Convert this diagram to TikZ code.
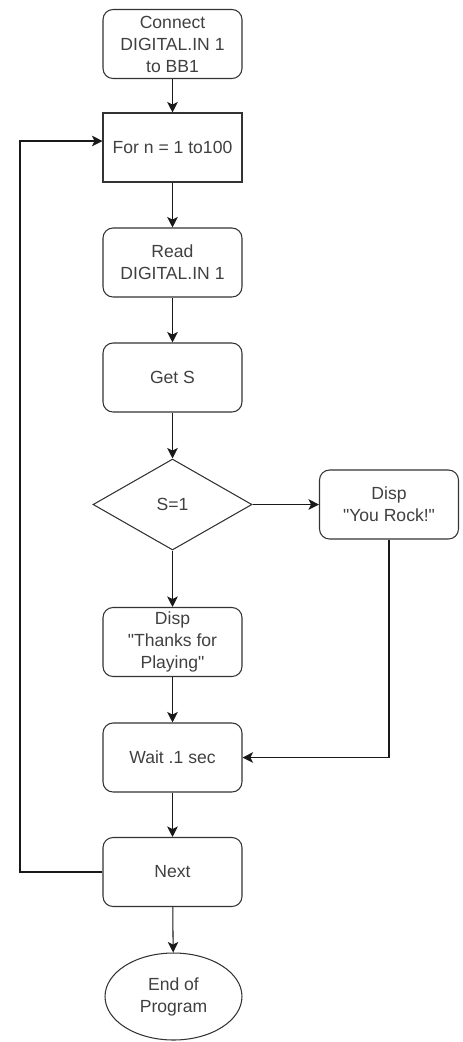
\documentclass[tikz,border=0pt]{standalone}
\usepackage{fontspec}
\setmainfont{Liberation Sans}
\usepackage{xcolor}
\definecolor{Col1}{RGB}{51,51,51}
\definecolor{Col2}{RGB}{64,64,64}
\usepackage{tikz}
\usetikzlibrary{shapes.geometric}
\usetikzlibrary{arrows.meta}
\tikzstyle{Box}=[rectangle,draw=Col1,line width=0.6pt,minimum width=2.78cm,
minimum height=1.38cm,inner sep=1pt,align=center,text=Col2,
font=\fontsize{10}{12.5}\selectfont]
\tikzstyle{RBox}=[Box,rounded corners=0.2cm]
\tikzstyle{Decision}=[Box,diamond,minimum width=3.18cm,minimum height=1.82cm,
inner sep=0pt]
\tikzstyle{Terminal}=[Box,ellipse,minimum width=2.74cm,minimum height=1.74cm,
inner sep=0pt]
\tikzstyle{Edge}=[draw=black!90,line width=0.6pt,
-{Stealth[length=6pt,width=6pt,inset=1.5pt]}]
\newcommand{\Quote}{\textquotedbl}

\begin{document}
\begin{tikzpicture}[x=0.02cm,y=-0.02cm]
        \useasboundingbox(0,0)rectangle(463,1042);
        \node[RBox](connect)at(172.5,44){Connect\\DIGITAL.IN 1\\to BB1};
        \node[Box](for)at(172.5,147.5){For n = 1 to100};
        \node[RBox](read)at(172.5,262.5){Read\\DIGITAL.IN 1};
        \node[RBox](get)at(172.5,377.5){Get S};
        \node[Decision](test)at(172.5,504.5){S=1};
        \node[RBox](rock)at(389,504.5){Disp\\\Quote You Rock!\Quote};
        \node[RBox](thanks)at(172.5,642){Disp\\\Quote Thanks for\\Playing\Quote};
        \node[RBox](wait)at(172.5,757.5){Wait .1 sec};
        \node[RBox](next)at(172.5,872){Next};
        \node[Terminal](end)at(173.5,996.5){End of\\Program};
        \coordinate(c1)at(20,872);
        \coordinate(c2)at(20,141);
        \draw[Edge](connect)--(for);
        \draw[Edge](for)--(read);
        \draw[Edge](read)--(get);
        \draw[Edge](get)--(test);
        \draw[Edge](test)--(rock);
        \draw[Edge](test)--(thanks);
        \draw[Edge](thanks)--(wait);
        \draw[Edge](rock.south)|-(wait.east);
        \draw[Edge](wait)--(next);
        \draw[Edge](next)--(end);
        \draw[Edge](next.west)--(c1)--(c2)--(c2-|for.west);
    \end{tikzpicture}
\end{document}
